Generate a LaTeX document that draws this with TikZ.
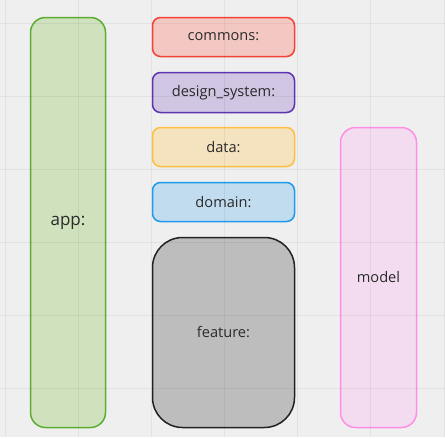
\documentclass[tikz,border=0pt]{standalone}
\usepackage{fontspec}
\setmainfont{Open Sans}
\definecolor{bg}{HTML}{EFEFEF}
\definecolor{txt}{HTML}{2A2A2A}
\definecolor{appD}{HTML}{5BAE32}\definecolor{appF}{HTML}{CFE1BD}
\definecolor{comD}{HTML}{F44336}\definecolor{comF}{HTML}{F4C8C2}
\definecolor{desD}{HTML}{5E35B1}\definecolor{desF}{HTML}{D0C5E2}
\definecolor{datD}{HTML}{FFBF40}\definecolor{datF}{HTML}{F5E3C0}
\definecolor{domD}{HTML}{1E9BEA}\definecolor{domF}{HTML}{C0DCEE}
\definecolor{feaD}{HTML}{222222}\definecolor{feaF}{HTML}{BDBDBD}
\definecolor{modD}{HTML}{FF8EE6}\definecolor{modF}{HTML}{F3DCEF}
\tikzset{
  box/.style={draw, line width=1.5pt, inner sep=0pt, text=txt, font=\fontsize{14.6}{17}\selectfont},
  small/.style={box, minimum width=142pt, rounded corners=8pt},
}
\begin{document}
\begin{tikzpicture}[x=1pt,y=-1pt]
\fill[bg] (0,0) rectangle (445,437);
\useasboundingbox (0,0) rectangle (445,437);
\node[box, draw=appD, fill=appF, minimum width=75pt, minimum height=410pt, rounded corners=15pt, font=\fontsize{17}{20}\selectfont] (app) at (68,222.5) {app:};
\node[small, draw=comD, fill=comF, minimum height=39pt] (commons) at (223.5,37) {commons:};
\node[small, draw=desD, fill=desF, minimum height=40pt] (design) at (223.5,92.5) {design\_system:};
\node[small, draw=datD, fill=datF, minimum height=39pt] (data) at (223.5,147) {data:};
\node[small, draw=domD, fill=domF, minimum height=39pt] (domain) at (223.5,202) {domain:};
\node[box, draw=feaD, fill=feaF, minimum width=142pt, minimum height=190pt, rounded corners=30pt] (feature) at (223.5,332.5) {feature:};
\node[box, draw=modD, fill=modF, minimum width=76pt, minimum height=300pt, rounded corners=15pt] (model) at (378.5,277.5) {model};
\foreach \gx in {5,78,151.5,224,297,370.5,444} {\draw[black, opacity=0.05, line width=1pt] (\gx,0) -- (\gx,437);}
\foreach \gy in {23,96,169,242,315,388} {\draw[black, opacity=0.05, line width=1pt] (0,\gy) -- (445,\gy);}
\end{tikzpicture}
\end{document}
